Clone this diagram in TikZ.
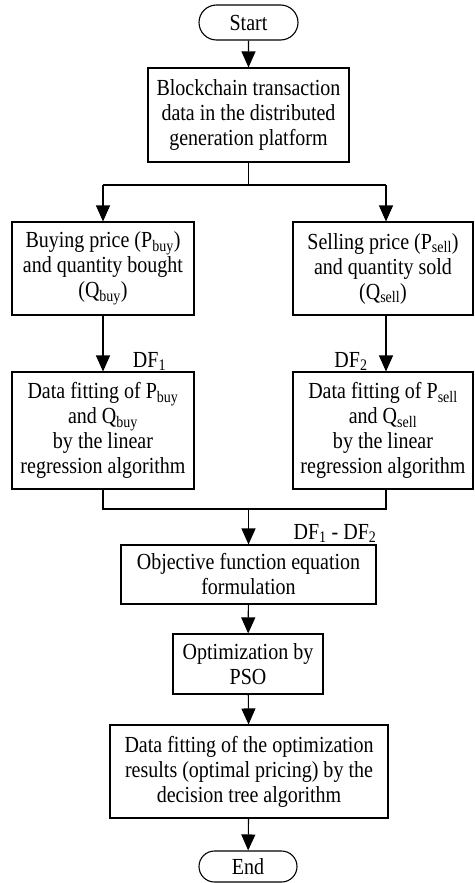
\documentclass[tikz,border=0pt]{standalone}
\usepackage{fontspec}
\setmainfont{Liberation Serif}[FakeStretch=0.87]
\usetikzlibrary{arrows.meta,shapes.misc}

\begin{document}
\begin{tikzpicture}[x=1pt,y=-1pt,
  font=\fontsize{23}{25}\selectfont,
  box/.style={draw, line width=1.1pt, rectangle, align=center, inner sep=0pt},
  term/.style={draw, line width=1.1pt, rounded rectangle, align=center, inner sep=0pt},
  flow/.style={line width=1.1pt, -{Triangle[width=14pt,length=16pt]}},
  link/.style={line width=1.1pt},
  lbl/.style={inner sep=0pt, anchor=base}]

\useasboundingbox (0,0) rectangle (474,883);

% terminals
\node[term, minimum width=99pt, minimum height=35pt] (start) at (248.5,22.5) {Start};
\node[term, minimum width=98pt, minimum height=31pt] (stop) at (248,866.5) {End};

% process boxes
\node[box, minimum width=201pt, minimum height=94pt] (data) at (248.5,115)
  {Blockchain transaction\\data in the distributed\\generation platform};
\node[box, minimum width=182pt, minimum height=93pt] (buy) at (103,268.5)
  {Buying price (P\textsubscript{buy})\\and quantity bought\\(Q\textsubscript{buy})};
\node[box, minimum width=180pt, minimum height=93pt] (sell) at (383,268.5)
  {Selling price (P\textsubscript{sell})\\and quantity sold\\(Q\textsubscript{sell})};
\node[box, minimum width=182pt, minimum height=117pt] (fitl) at (103,430.5)
  {Data fitting of P\textsubscript{buy}\\and Q\textsubscript{buy}\\by the linear\\regression algorithm};
\node[box, minimum width=180pt, minimum height=117pt] (fitr) at (383,430.5)
  {Data fitting of P\textsubscript{sell}\\and Q\textsubscript{sell}\\by the linear\\regression algorithm};
\node[box, minimum width=255pt, minimum height=59pt] (obj) at (248.5,574.5)
  {Objective function equation\\formulation};
\node[box, minimum width=150pt, minimum height=60pt] (opt) at (248,664)
  {Optimization by\\PSO};
\node[box, minimum width=278pt, minimum height=93pt] (tree) at (249,771.5)
  {Data fitting of the optimization\\results (optimal pricing) by the\\decision tree algorithm};

% branch and join points
\coordinate (split) at (248.5,185);
\coordinate (lsplit) at (103,185);
\coordinate (rsplit) at (386,185);
\coordinate (ljoin) at (103,509);
\coordinate (rjoin) at (386,509);
\coordinate (mjoin) at (248.5,509);

% connectors
\draw[flow] (start) -- (data);
\draw[link] (data.south) -- (split);
\draw[link] (lsplit) -- (rsplit);
\draw[flow] (lsplit) -- (buy.north);
\draw[flow] (rsplit) -- (rsplit |- sell.north);
\draw[flow] (buy) -- (fitl);
\draw[flow] (sell.south -| rsplit) -- (fitr.north -| rsplit);
\draw[link] (fitl.south) -- (ljoin) -- (rjoin) -- (fitr.south -| rjoin);
\draw[flow] (mjoin) -- (obj.north);
\draw[flow] (obj) -- (opt);
\draw[flow] (opt) -- (tree);
\draw[flow] (tree) -- (stop);

% connector labels
\node[lbl] (df1) at (149.5,367) {DF\textsubscript{1}};
\node[lbl] (df2) at (351,367) {DF\textsubscript{2}};
\node[lbl] (dfd) at (335,539) {DF\textsubscript{1} - DF\textsubscript{2}};

\end{tikzpicture}
\end{document}
